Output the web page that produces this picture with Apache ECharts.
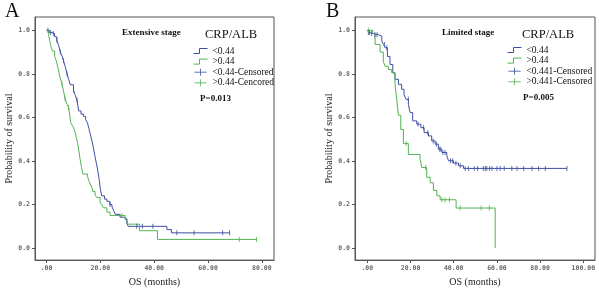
<!DOCTYPE html>
<html>
<head>
<meta charset="utf-8">
<script src="https://cdn.jsdelivr.net/npm/echarts@6/dist/echarts.min.js"></script>
<style>
  html, body { margin: 0; padding: 0; background: #fff; }
  #chart { width: 599px; height: 292px; }
</style>
</head>
<body>
<div id="chart"></div>
<script>
// Kaplan-Meier curves, [months, survival]
var extLow = [[0,1],[1,0.99],[2,0.985],[3,0.97],[3.8,0.955],[4.5,0.93],[5.1,0.9],[5.8,0.88],[6.3,0.86],[7,0.83],[7.6,0.8],[8.2,0.775],[8.8,0.75],[10,0.725],[10.7,0.7],[11.3,0.68],[11.9,0.63],[12.8,0.615],[13.7,0.605],[14.5,0.59],[15.2,0.575],[15.7,0.55],[16.2,0.525],[16.8,0.495],[17.4,0.46],[18,0.42],[18.5,0.39],[19.1,0.35],[19.6,0.31],[20,0.27],[20.5,0.24],[21.5,0.225],[22.4,0.215],[23.5,0.2],[24.3,0.19],[25,0.17],[25.5,0.155],[27.3,0.142],[28.6,0.135],[29.8,0.115],[30.3,0.1],[44.7,0.085],[46.4,0.07],[68,0.07]];
var extHigh = [[0,1],[0.8,0.975],[1.2,0.95],[1.5,0.93],[2.2,0.905],[3,0.88],[3.6,0.86],[4.1,0.835],[4.7,0.8],[5.1,0.78],[5.7,0.755],[6.3,0.72],[6.9,0.685],[7.6,0.66],[8.2,0.645],[8.6,0.61],[9,0.575],[9.7,0.56],[10.3,0.545],[10.9,0.515],[11.5,0.485],[12,0.445],[12.5,0.405],[13,0.37],[13.5,0.34],[15.2,0.33],[15.7,0.31],[16.2,0.295],[16.8,0.28],[17.2,0.26],[18,0.245],[18.7,0.232],[19.9,0.21],[20.5,0.2],[21.1,0.185],[22.4,0.165],[23.6,0.15],[29.2,0.13],[30,0.11],[34.5,0.08],[41.2,0.04],[78,0.04]];
var extLowCens = [[0.5,1],[1.5,0.99],[2.5,0.985],[3.8,0.955],[5.1,0.9],[6.3,0.86],[7.6,0.8],[10,0.725],[11.3,0.68],[23.6,0.2],[33.5,0.1],[35.6,0.1],[39.5,0.1],[48.4,0.07],[54.8,0.07],[65.4,0.07],[68,0.07]];
var extHighCens = [[5.7,0.755],[6.9,0.685],[8.2,0.645],[28,0.15],[71.6,0.04],[78,0.04]];

var limLow = [[0,1],[0.8,0.99],[1.3,0.985],[2.8,0.98],[5.1,0.973],[6.7,0.95],[7.5,0.935],[8.2,0.92],[9.3,0.88],[10.5,0.843],[11.8,0.805],[12.8,0.775],[14.4,0.752],[15.9,0.729],[17,0.706],[17.9,0.683],[19,0.66],[19.8,0.622],[21,0.584],[22.9,0.569],[24.8,0.553],[26.3,0.53],[28.3,0.515],[29.8,0.492],[31.4,0.477],[32.9,0.454],[34.5,0.439],[36.8,0.424],[37.6,0.401],[39.9,0.39],[42.2,0.378],[44.5,0.366],[92.4,0.366]];
var limHigh = [[0,1],[2.5,0.985],[3.6,0.935],[5.9,0.9],[7.4,0.858],[8.2,0.835],[9.7,0.82],[11.3,0.805],[12.8,0.755],[13.6,0.685],[14.4,0.61],[15.5,0.545],[16.7,0.48],[19,0.43],[24.4,0.41],[25.2,0.37],[27.5,0.325],[29.1,0.3],[30.6,0.265],[32.2,0.24],[33.7,0.222],[41.1,0.184],[59.2,0]];
var limLowCens = [[0.5,0.99],[1,0.99],[2,0.985],[3.5,0.98],[4.5,0.98],[8,0.935],[9,0.92],[19,0.683],[23.5,0.569],[26,0.553],[28,0.53],[30.5,0.492],[32,0.477],[33.5,0.454],[34,0.454],[35,0.439],[36,0.439],[38.5,0.401],[39.5,0.401],[41,0.39],[43,0.378],[45.3,0.366],[46.8,0.366],[49.5,0.366],[51,0.366],[53.7,0.366],[54.6,0.366],[55.3,0.366],[56.6,0.366],[57.7,0.366],[60,0.366],[61.5,0.366],[63.4,0.366],[66.9,0.366],[69.3,0.366],[72.4,0.366],[76.2,0.366],[79.3,0.366],[82.4,0.366],[92.4,0.366]];
var limHighCens = [[0.5,1],[18,0.48],[27,0.37],[34.5,0.222],[36,0.222],[38,0.222],[43,0.184],[52.7,0.184],[56.5,0.184]];

var xTicksA = [0, 20, 40, 60, 80];
var xTicksB = [0, 20, 40, 60, 80, 100];
var yTicks = [0, 0.2, 0.4, 0.6, 0.8, 1.0];

var BLUE = '#3d4fa1';
var GREEN = '#52b252';
var SERIF = 'Liberation Serif';
var STEP_ICON = 'path://M0,6L6,6L6,1L14,1';
var CENS_ICON = 'path://M0,4L14,4M7,0L7,8';

function xAxisOf(grid, min, max, ticks) {
    return {
        type: 'value', gridIndex: grid, min: min, max: max,
        name: 'OS (months)', nameLocation: 'middle', nameGap: 15,
        nameTextStyle: {fontFamily: SERIF, fontSize: 10, color: '#222'},
        axisLine: {show: true, onZero: false, lineStyle: {color: '#555', width: 1}},
        axisTick: {show: true, length: 3, customValues: ticks, lineStyle: {color: '#555'}},
        axisLabel: {
            customValues: ticks, margin: 5,
            fontFamily: 'DejaVu Sans Mono', fontSize: 6.5, fontWeight: 'bold', color: '#666',
            formatter: function (v) { return v === 0 ? '.00' : v.toFixed(2); }
        },
        splitLine: {show: false}
    };
}
function yAxisOf(grid, gap) {
    return {
        type: 'value', gridIndex: grid, min: -0.055, max: 1.061,
        name: 'Probability of survival', nameLocation: 'middle', nameGap: gap, nameRotate: 90,
        nameTextStyle: {fontFamily: SERIF, fontSize: 10, color: '#222'},
        axisLine: {show: true, onZero: false, lineStyle: {color: '#555', width: 1}},
        axisTick: {show: true, length: 3, customValues: yTicks, lineStyle: {color: '#555'}},
        axisLabel: {
            customValues: yTicks, margin: 5,
            fontFamily: 'DejaVu Sans Mono', fontSize: 6.5, fontWeight: 'bold', color: '#666',
            formatter: function (v) { return v.toFixed(1); }
        },
        splitLine: {show: false}
    };
}
function km(name, data, color, idx) {
    return {
        name: name, type: 'line', step: 'end', data: data,
        xAxisIndex: idx, yAxisIndex: idx, showSymbol: false, symbol: 'none',
        lineStyle: {color: color, width: 1}, itemStyle: {color: color},
        animation: false, z: 2
    };
}
function cens(name, data, color, idx) {
    return {
        name: name, type: 'scatter', data: data,
        xAxisIndex: idx, yAxisIndex: idx,
        symbol: 'rect', symbolSize: [1, 5],
        itemStyle: {color: color}, animation: false, z: 3
    };
}
function legendOf(left, top, names) {
    var cols = [BLUE, GREEN, BLUE, GREEN];
    var icons = [STEP_ICON, STEP_ICON, CENS_ICON, CENS_ICON];
    return {
        left: left, top: top, orient: 'vertical', padding: 0,
        itemWidth: 14, itemHeight: 7, itemGap: 0.6,
        textStyle: {fontFamily: SERIF, fontSize: 9.5, lineHeight: 10, color: '#111'},
        data: names.map(function (n, i) {
            return {name: n, icon: icons[i],
                itemStyle: {color: 'transparent', borderColor: cols[i], borderWidth: 1}};
        })
    };
}
function txt(text, left, top, size, weight) {
    return {text: text, left: left, top: top, padding: 0,
        textStyle: {fontFamily: SERIF, fontSize: size, fontWeight: weight || 'normal', color: '#111'}};
}

var chart = echarts.init(document.getElementById('chart'));
var option = {
    backgroundColor: '#fff',
    animation: false,
    title: [
        txt('A', 5, 2, 20),
        txt('Extensive stage', 122, 28, 9, 'bold'),
        txt('CRP/ALB', 205, 28, 12.5),
        txt('P=0.013', 200, 94, 9, 'bold'),
        txt('B', 326, 2, 20),
        txt('Limited stage', 442, 28, 9, 'bold'),
        txt('CRP/ALB', 522, 28, 12.5),
        txt('P=0.005', 523, 93, 9, 'bold')
    ],
    legend: [
        legendOf(193, 46, ['<0.44', '>0.44', '<0.44-Censored', '>0.44-Cencored']),
        legendOf(507, 45, ['<0.44 ', '>0.44 ', '<0.441-Censored', '>0.441-Censored'])
    ],
    grid: [
        {left: 35, top: 17, width: 239, height: 244, show: true, borderColor: '#555', borderWidth: 1},
        {left: 355, top: 17, width: 240, height: 244, show: true, borderColor: '#555', borderWidth: 1}
    ],
    xAxis: [xAxisOf(0, -4.3, 84.5, xTicksA), xAxisOf(1, -5.7, 105.4, xTicksB)],
    yAxis: [yAxisOf(0, 19), yAxisOf(1, 18)],
    series: [
        km('<0.44', extLow, BLUE, 0),
        km('>0.44', extHigh, GREEN, 0),
        cens('<0.44-Censored', extLowCens, BLUE, 0),
        cens('>0.44-Cencored', extHighCens, GREEN, 0),
        km('<0.44 ', limLow, BLUE, 1),
        km('>0.44 ', limHigh, GREEN, 1),
        cens('<0.441-Censored', limLowCens, BLUE, 1),
        cens('>0.441-Censored', limHighCens, GREEN, 1)
    ]
};
chart.setOption(option);
</script>
</body>
</html>
